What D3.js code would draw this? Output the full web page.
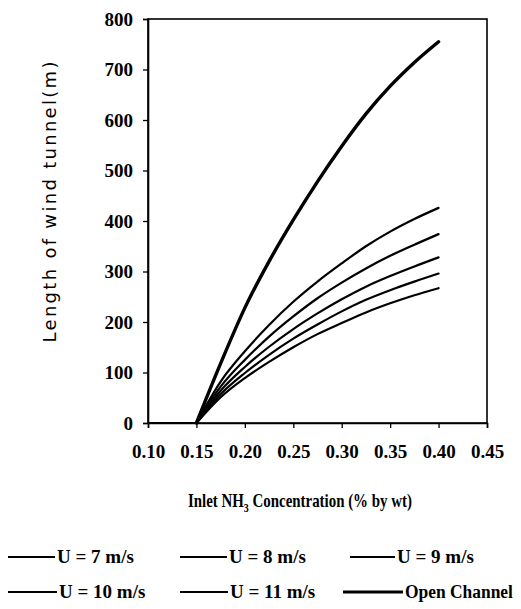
<!DOCTYPE html>
<html><head><meta charset="utf-8">
<script src="https://cdn.jsdelivr.net/npm/d3@7"></script>
<style>body{margin:0;background:#fff;} svg{display:block;}</style>
</head><body>
<svg id="chart" width="521" height="609"></svg>
<script>
const conc = [0.10, 0.15, 0.175, 0.20, 0.225, 0.25, 0.275, 0.30, 0.325, 0.35, 0.375, 0.40];
const u7  = [0, 0, 82, 142, 194, 240, 280, 316, 350, 379, 404, 426];
const u8  = [0, 0, 72, 125, 171, 211, 247, 278, 306, 331, 353, 374];
const u9  = [0, 0, 64, 111, 151, 186, 217, 245, 270, 291, 310, 328];
const u10 = [0, 0, 57, 99, 135, 167, 195, 221, 244, 263, 280, 296];
const u11 = [0, 0, 51, 89, 121, 150, 176, 198, 219, 237, 253, 267];
const openCh = [0, 0, 118, 228, 320, 402, 478, 548, 612, 667, 714, 755];
const seriesNames = ["U = 7 m/s", "U = 8 m/s", "U = 9 m/s", "U = 10 m/s", "U = 11 m/s", "Open Channel"];
const seriesVals = [u7, u8, u9, u10, u11, openCh];
const xTicks = [0.10, 0.15, 0.20, 0.25, 0.30, 0.35, 0.40, 0.45];
const yTicks = [0, 100, 200, 300, 400, 500, 600, 700, 800];

const svg = d3.select("#chart");
const L = 148, R = 487, T = 19, B = 423;
const x = d3.scaleLinear().domain([0.10, 0.45]).range([L, R]);
const y = d3.scaleLinear().domain([0, 800]).range([B, T]);
const serif = "'Liberation Serif', 'Times New Roman', serif";

// frame
svg.append("rect").attr("x", L).attr("y", T).attr("width", R - L).attr("height", B - T)
  .attr("fill", "none").attr("stroke", "#000").attr("stroke-width", 1.6);

const yAxis = svg.append("g").attr("transform", `translate(${L},0)`)
  .call(d3.axisLeft(y).tickValues(yTicks).tickSize(5).tickPadding(10).tickFormat(d3.format("d")));
const xAxis = svg.append("g").attr("transform", `translate(0,${B})`)
  .call(d3.axisBottom(x).tickValues(xTicks).tickSize(5).tickPadding(17).tickFormat(d3.format(".2f")));
[xAxis, yAxis].forEach(g => {
  g.select(".domain").attr("stroke", "#000").attr("stroke-width", 1.6);
  g.selectAll(".tick line").attr("stroke", "#000").attr("stroke-width", 1.3);
  g.selectAll(".tick text").attr("fill", "#000").style("font-family", serif)
    .style("font-weight", "bold").style("font-size", "19px");
});

// lines: flat zero part (linear) + smooth rising part
const pts = vals => vals.map((v, i) => [conc[i], v]);
const flat = d3.line().x(d => x(d[0])).y(d => y(d[1]));
const smooth = d3.line().x(d => x(d[0])).y(d => y(d[1])).curve(d3.curveMonotoneX);
seriesVals.forEach((vals, k) => {
  const p = pts(vals);
  const w = k === 5 ? 3.4 : 2.2;
  svg.append("path").datum(p.slice(0, 2)).attr("d", flat).attr("fill", "none")
    .attr("stroke", "#000").attr("stroke-width", 1.6);
  svg.append("path").datum(p.slice(1)).attr("d", smooth).attr("fill", "none")
    .attr("stroke", "#000").attr("stroke-width", w)
    .attr("stroke-linejoin", "round").attr("stroke-linecap", "round");
});

// y title
svg.append("text").attr("transform", "translate(56,202) rotate(-90)")
  .attr("text-anchor", "middle").style("font-family", "'DejaVu Sans', sans-serif")
  .style("font-size", "18px").attr("fill", "#000")
  .attr("textLength", 281).attr("lengthAdjust", "spacing")
  .text("Length of wind tunnel(m)");

// helper: horizontally condense a text (like the narrow scanned font)
function condensed(g, startX, baseY, targetW, anchorMid) {
  const t = g.select("text");
  const w = t.node().getComputedTextLength();
  const s = Math.min(1, targetW / w);
  const x0 = anchorMid ? startX - targetW / 2 : startX;
  g.attr("transform", `translate(${x0},${baseY}) scale(${s},1)`);
}

// x title
const xg = svg.append("g");
const xt = xg.append("text").attr("x", 0).attr("y", 0)
  .style("font-family", serif).style("font-weight", "bold").style("font-size", "18px").attr("fill", "#000");
xt.append("tspan").text("Inlet NH");
xt.append("tspan").attr("dy", 5).style("font-size", "12px").text("3");
xt.append("tspan").attr("dy", -5).text(" Concentration (% by wt)");
condensed(xg, 300, 507, 224, true);

// legend
const colX = [8, 180, 350];
const rowY = [557, 592];
const lineLen = [47, 47, 45, 49, 48, 60];
const textW = [80, 82, 86, 87, 90, 108];
seriesNames.forEach((name, i) => {
  const cx = colX[i % 3] - (i === 5 ? 7 : 0), cy = rowY[Math.floor(i / 3)];
  svg.append("line").attr("x1", cx).attr("x2", cx + lineLen[i]).attr("y1", cy).attr("y2", cy)
    .attr("stroke", "#000").attr("stroke-width", i === 5 ? 3 : 2);
  const g = svg.append("g");
  g.append("text").attr("x", 0).attr("y", 0)
    .style("font-family", serif).style("font-weight", "bold").style("font-size", "19px")
    .attr("fill", "#000").text(name);
  condensed(g, cx + lineLen[i] + 2, cy + 6, textW[i], false);
});
</script>
</body></html>
